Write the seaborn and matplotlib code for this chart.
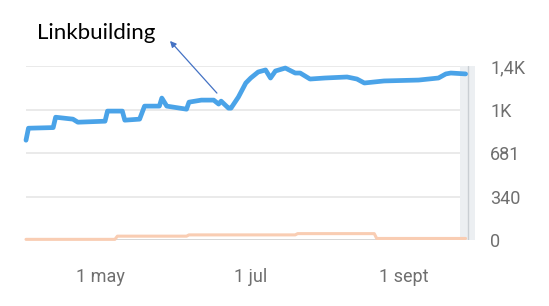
import matplotlib
matplotlib.use("Agg")
import matplotlib.pyplot as plt
import seaborn as sns
import pandas as pd

# ---- data ----
blue_dates = ["2024-04-01", "2024-04-02", "2024-04-12", "2024-04-13", "2024-04-20", "2024-04-22",
              "2024-05-03", "2024-05-04", "2024-05-10", "2024-05-11", "2024-05-17", "2024-05-19",
              "2024-05-25", "2024-05-26", "2024-05-28", "2024-06-05", "2024-06-06", "2024-06-11",
              "2024-06-16", "2024-06-18", "2024-06-19", "2024-06-22", "2024-06-23", "2024-06-26",
              "2024-06-29", "2024-07-01", "2024-07-04", "2024-07-07", "2024-07-09", "2024-07-11",
              "2024-07-15", "2024-07-19", "2024-07-21", "2024-07-25", "2024-07-31", "2024-08-09",
              "2024-08-13", "2024-08-16", "2024-08-24", "2024-09-07", "2024-09-15", "2024-09-18",
              "2024-09-20", "2024-09-26"]
blue_values = [781, 875, 880, 961, 946, 922,
               930, 1009, 1009, 938, 946, 1048,
               1048, 1111, 1048, 1024, 1079, 1095,
               1095, 1064, 1087, 1032, 1032, 1119,
               1229, 1268, 1315, 1331, 1268, 1323,
               1346, 1307, 1307, 1260, 1268, 1276,
               1260, 1229, 1245, 1252, 1268, 1300,
               1307, 1300]

orange_dates = ["2024-04-01", "2024-05-07", "2024-05-08", "2024-06-05", "2024-06-06",
                "2024-07-19", "2024-07-20", "2024-08-20", "2024-08-21", "2024-09-26"]
orange_values = [5, 5, 30, 30, 40, 40, 50, 50, 12, 12]

y_ticks = [0, 340, 681, 1021, 1362]
y_tick_labels = ["0", "340", "681", "1K", "1,4K"]
x_tick_dates = ["2024-05-01", "2024-07-01", "2024-09-01"]
x_tick_labels = ["1 may", "1 jul", "1 sept"]
annotation_text = "Linkbuilding"

# ---- figure ----
sns.set_style("white")
plt.rcParams["font.family"] = ["Roboto", "DejaVu Sans"]

fig = plt.figure(figsize=(5.49, 3.06), dpi=100)
ax = fig.add_axes([26 / 549, 1 - 240 / 306, (475 - 26) / 549, (240 - 66) / 306])

blue = pd.DataFrame({"date": pd.to_datetime(blue_dates), "value": blue_values})
orange = pd.DataFrame({"date": pd.to_datetime(orange_dates), "value": orange_values})

for y in y_ticks:
    ax.axhline(y, color="#e4e4e4", lw=1.1, zorder=0)
ax.axhline(0, color="#d6d6d6", lw=1.3, zorder=0)

sns.lineplot(data=orange, x="date", y="value", ax=ax, color="#f9cdb3", lw=2.2,
             clip_on=False, zorder=2)
sns.lineplot(data=blue, x="date", y="value", ax=ax, color="#4aa3e8", lw=3.4,
             clip_on=False, zorder=3, solid_joinstyle="round")

start = pd.Timestamp("2024-04-01")
ax.set_xlim(start, start + pd.Timedelta(days=181.8))
ax.set_ylim(0, 1362)

ax.axvspan(start + pd.Timedelta(days=175.7), start + pd.Timedelta(days=181.8),
           color="#eceff2", zorder=1, lw=0)
ax.axvline(start + pd.Timedelta(days=179), color="#c9ced3", lw=1.0, zorder=1)

for s in ax.spines.values():
    s.set_visible(False)

ax.yaxis.tick_right()
ax.set_yticks(y_ticks)
ax.set_yticklabels(y_tick_labels)
ax.set_xticks(pd.to_datetime(x_tick_dates))
ax.set_xticklabels(x_tick_labels)
ax.tick_params(axis="y", length=0, pad=11, labelsize=13, labelcolor="#6f6f6f")
ax.tick_params(axis="x", length=0, pad=20, labelsize=13, labelcolor="#6f6f6f")
ax.set_xlabel("")
ax.set_ylabel("")
ax.grid(False)

ax.annotate("", xy=(start + pd.Timedelta(days=58.3), 1558),
            xytext=(start + pd.Timedelta(days=77.3), 1150),
            arrowprops=dict(arrowstyle="-|>", color="#4472c4", lw=0.9,
                            mutation_scale=9, shrinkA=0, shrinkB=0),
            annotation_clip=False)
fig.text(37 / 549, 1 - 39 / 306, annotation_text, fontsize=16, color="black",
         family=["Lato", "DejaVu Sans"], ha="left", va="baseline")

fig.savefig("out.png", dpi=100, facecolor="white")
